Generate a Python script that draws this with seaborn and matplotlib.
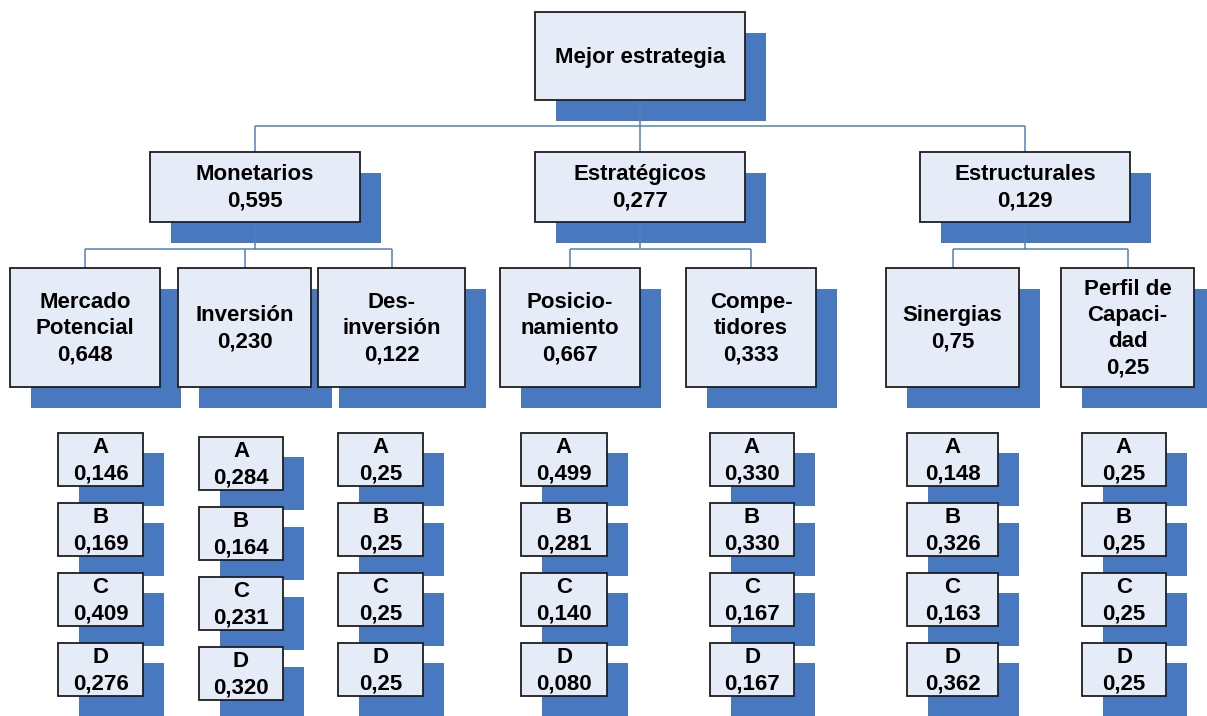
import matplotlib
matplotlib.use("Agg")
import matplotlib.pyplot as plt
from matplotlib.patches import Rectangle
import seaborn as sns

# ---- hierarchy data -------------------------------------------------------
goal = "Mejor estrategia"

criteria = ["Monetarios", "Estratégicos", "Estructurales"]
criteria_weights = [0.595, 0.277, 0.129]

subcriteria = ["Mercado\nPotencial", "Inversión", "Des-\ninversión",
               "Posicio-\nnamiento", "Compe-\ntidores",
               "Sinergias", "Perfil de\nCapaci-\ndad"]
subcriteria_weights = [0.648, 0.230, 0.122, 0.667, 0.333, 0.75, 0.25]
subcriteria_parent = [0, 0, 0, 1, 1, 2, 2]
subcriteria_decimals = [3, 3, 3, 3, 3, 2, 2]

alternatives = ["A", "B", "C", "D"]
alt_mercado = [0.146, 0.169, 0.409, 0.276]
alt_inversion = [0.284, 0.164, 0.231, 0.320]
alt_desinversion = [0.25, 0.25, 0.25, 0.25]
alt_posicionamiento = [0.499, 0.281, 0.140, 0.080]
alt_competidores = [0.330, 0.330, 0.167, 0.167]
alt_sinergias = [0.148, 0.326, 0.163, 0.362]
alt_perfil = [0.25, 0.25, 0.25, 0.25]
alt_decimals = [3, 3, 2, 3, 3, 3, 2]

alt_scores = [alt_mercado, alt_inversion, alt_desinversion,
              alt_posicionamiento, alt_competidores, alt_sinergias, alt_perfil]

# ---- style ------------------------------------------------------------------
sns.set_theme(style="white")
plt.rcParams["font.family"] = ["Liberation Sans", "DejaVu Sans"]

FILL = "#E6ECF7"
SHADOW = "#4878C0"
EDGE = "#1E1E1E"
LINK = "#4F81BD"
FS = 16


def fmt(v, d):
    return f"{v:.{d}f}".replace(".", ",")


fig = plt.figure(figsize=(12.07, 7.16), dpi=100)
ax = fig.add_axes([0, 0, 1, 1])
ax.set_xlim(0, 1207)
ax.set_ylim(716, 0)
ax.axis("off")


def node(x0, x1, y0, y1, text, dx=21, dy=21):
    ax.add_patch(Rectangle((x0 + dx, y0 + dy), x1 - x0, y1 - y0,
                           facecolor=SHADOW, edgecolor="none", zorder=1))
    ax.add_patch(Rectangle((x0, y0), x1 - x0, y1 - y0,
                           facecolor=FILL, edgecolor=EDGE, linewidth=1.3,
                           zorder=3))
    ax.text((x0 + x1) / 2, (y0 + y1) / 2 + 1, text, ha="center", va="center",
            fontsize=FS, fontweight="bold", color="black",
            linespacing=1.32, zorder=4)


def link(xs, ys):
    ax.plot(xs, ys, color=LINK, linewidth=1.1, zorder=2,
            solid_capstyle="butt")


# level 0
top_x = (535, 745)
top_y = (12, 100)
node(*top_x, *top_y, goal)

# level 1
crit_x = [(150, 360), (535, 745), (920, 1130)]
crit_y = (152, 222)
crit_cx = [(a + b) / 2 for a, b in crit_x]
link([640, 640], [top_y[1], 126])
link([min(crit_cx), max(crit_cx)], [126, 126])
for (x0, x1), cx, name, w in zip(crit_x, crit_cx, criteria, criteria_weights):
    link([cx, cx], [126, crit_y[0]])
    node(x0, x1, *crit_y, f"{name}\n{fmt(w, 3)}")

# level 2
sub_x = [(10, 160), (178, 311), (318, 465), (500, 640), (686, 816),
         (886, 1019), (1061, 1194)]
sub_y = (268, 387)
sub_cx = [(a + b) / 2 for a, b in sub_x]
for p, cx in enumerate(crit_cx):
    kids = [sub_cx[i] for i, par in enumerate(subcriteria_parent) if par == p]
    link([cx, cx], [crit_y[1], 249])
    link([min(kids), max(kids)], [249, 249])
    for k in kids:
        link([k, k], [249, sub_y[0]])
for (x0, x1), name, w, d in zip(sub_x, subcriteria, subcriteria_weights,
                                 subcriteria_decimals):
    node(x0, x1, *sub_y, f"{name}\n{fmt(w, d)}")

# level 3: alternatives under each sub-criterion
alt_x = [(58, 143), (199, 283), (338, 423), (521, 607), (710, 794),
         (907, 998), (1082, 1166)]
alt_top = [433, 437, 433, 433, 433, 433, 433]
ALT_H = 53
ALT_STEP = 70
for col, ((x0, x1), y_start, scores, d) in enumerate(
        zip(alt_x, alt_top, alt_scores, alt_decimals)):
    for r, (lab, s) in enumerate(zip(alternatives, scores)):
        y0 = y_start + r * ALT_STEP
        node(x0, x1, y0, y0 + ALT_H, f"{lab}\n{fmt(s, d)}", dx=21, dy=20)

fig.savefig("out.png", dpi=100, facecolor="white")
